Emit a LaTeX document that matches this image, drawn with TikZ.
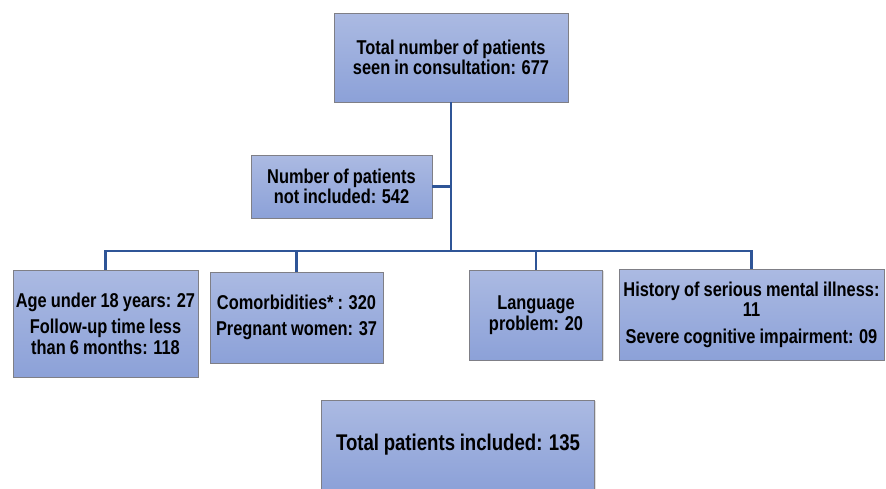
\documentclass[tikz,border=0pt]{standalone}
\usepackage{fontspec}
\setmainfont{Liberation Sans}[FakeStretch=0.82, WordSpace=0.9]
\usetikzlibrary{shadows}
\definecolor{boxtop}{HTML}{ABBAE2}
\definecolor{boxbot}{HTML}{8CA1D8}
\definecolor{boxline}{HTML}{7F7F86}
\definecolor{conn}{HTML}{2F5597}
\tikzset{
  flowbox/.style={draw=boxline, line width=0.8pt, top color=boxtop, bottom color=boxbot,
    align=center, inner sep=1pt, font=\bfseries\fontsize{20}{20.5}\selectfont,
    drop shadow={opacity=0.25, shadow xshift=1.2pt, shadow yshift=-1.2pt}},
  link/.style={draw=conn, line width=2.2pt}
}
\begin{document}
\begin{tikzpicture}[x=1pt,y=-1pt]
\useasboundingbox (0,0) rectangle (886,488);
\node[flowbox, minimum width=234pt, minimum height=89pt] (top) at (451,57.5)
  {Total number of patients\\seen in consultation: 677};
\node[flowbox, minimum width=181pt, minimum height=63pt] (ni) at (341.5,186.5)
  {Number of patients\\not included: 542};
\node[flowbox, minimum width=185pt, minimum height=107pt] (a) at (105.5,323.5)
  {Age under 18 years: 27\\[6pt]Follow-up time less\\than 6 months: 118};
\node[flowbox, minimum width=173pt, minimum height=91pt] (b) at (296.5,317.5)
  {Comorbidities* : 320\\[6pt]Pregnant women: 37};
\node[flowbox, minimum width=133pt, minimum height=90pt] (c) at (536,315)
  {Language\\problem: 20};
\node[flowbox, minimum width=265pt, minimum height=91pt] (d) at (751.5,314.5)
  {History of serious mental illness:\\11\\[6pt]Severe cognitive impairment: 09};
\node[flowbox, minimum width=273pt, minimum height=90pt, font=\bfseries\fontsize{22.7}{24}\selectfont] (e) at (458,445)
  {Total patients included: 135};
\coordinate (bus) at (451,251);
\draw[link] (top.south) -- (top.south |- bus);
\draw[link] (ni.east) -- (ni.east -| top.south);
\draw[link] (a.north) |- (bus) -| (d.north);
\draw[link] (b.north) -- (b.north |- bus);
\draw[link] (c.north) -- (c.north |- bus);
\end{tikzpicture}
\end{document}
